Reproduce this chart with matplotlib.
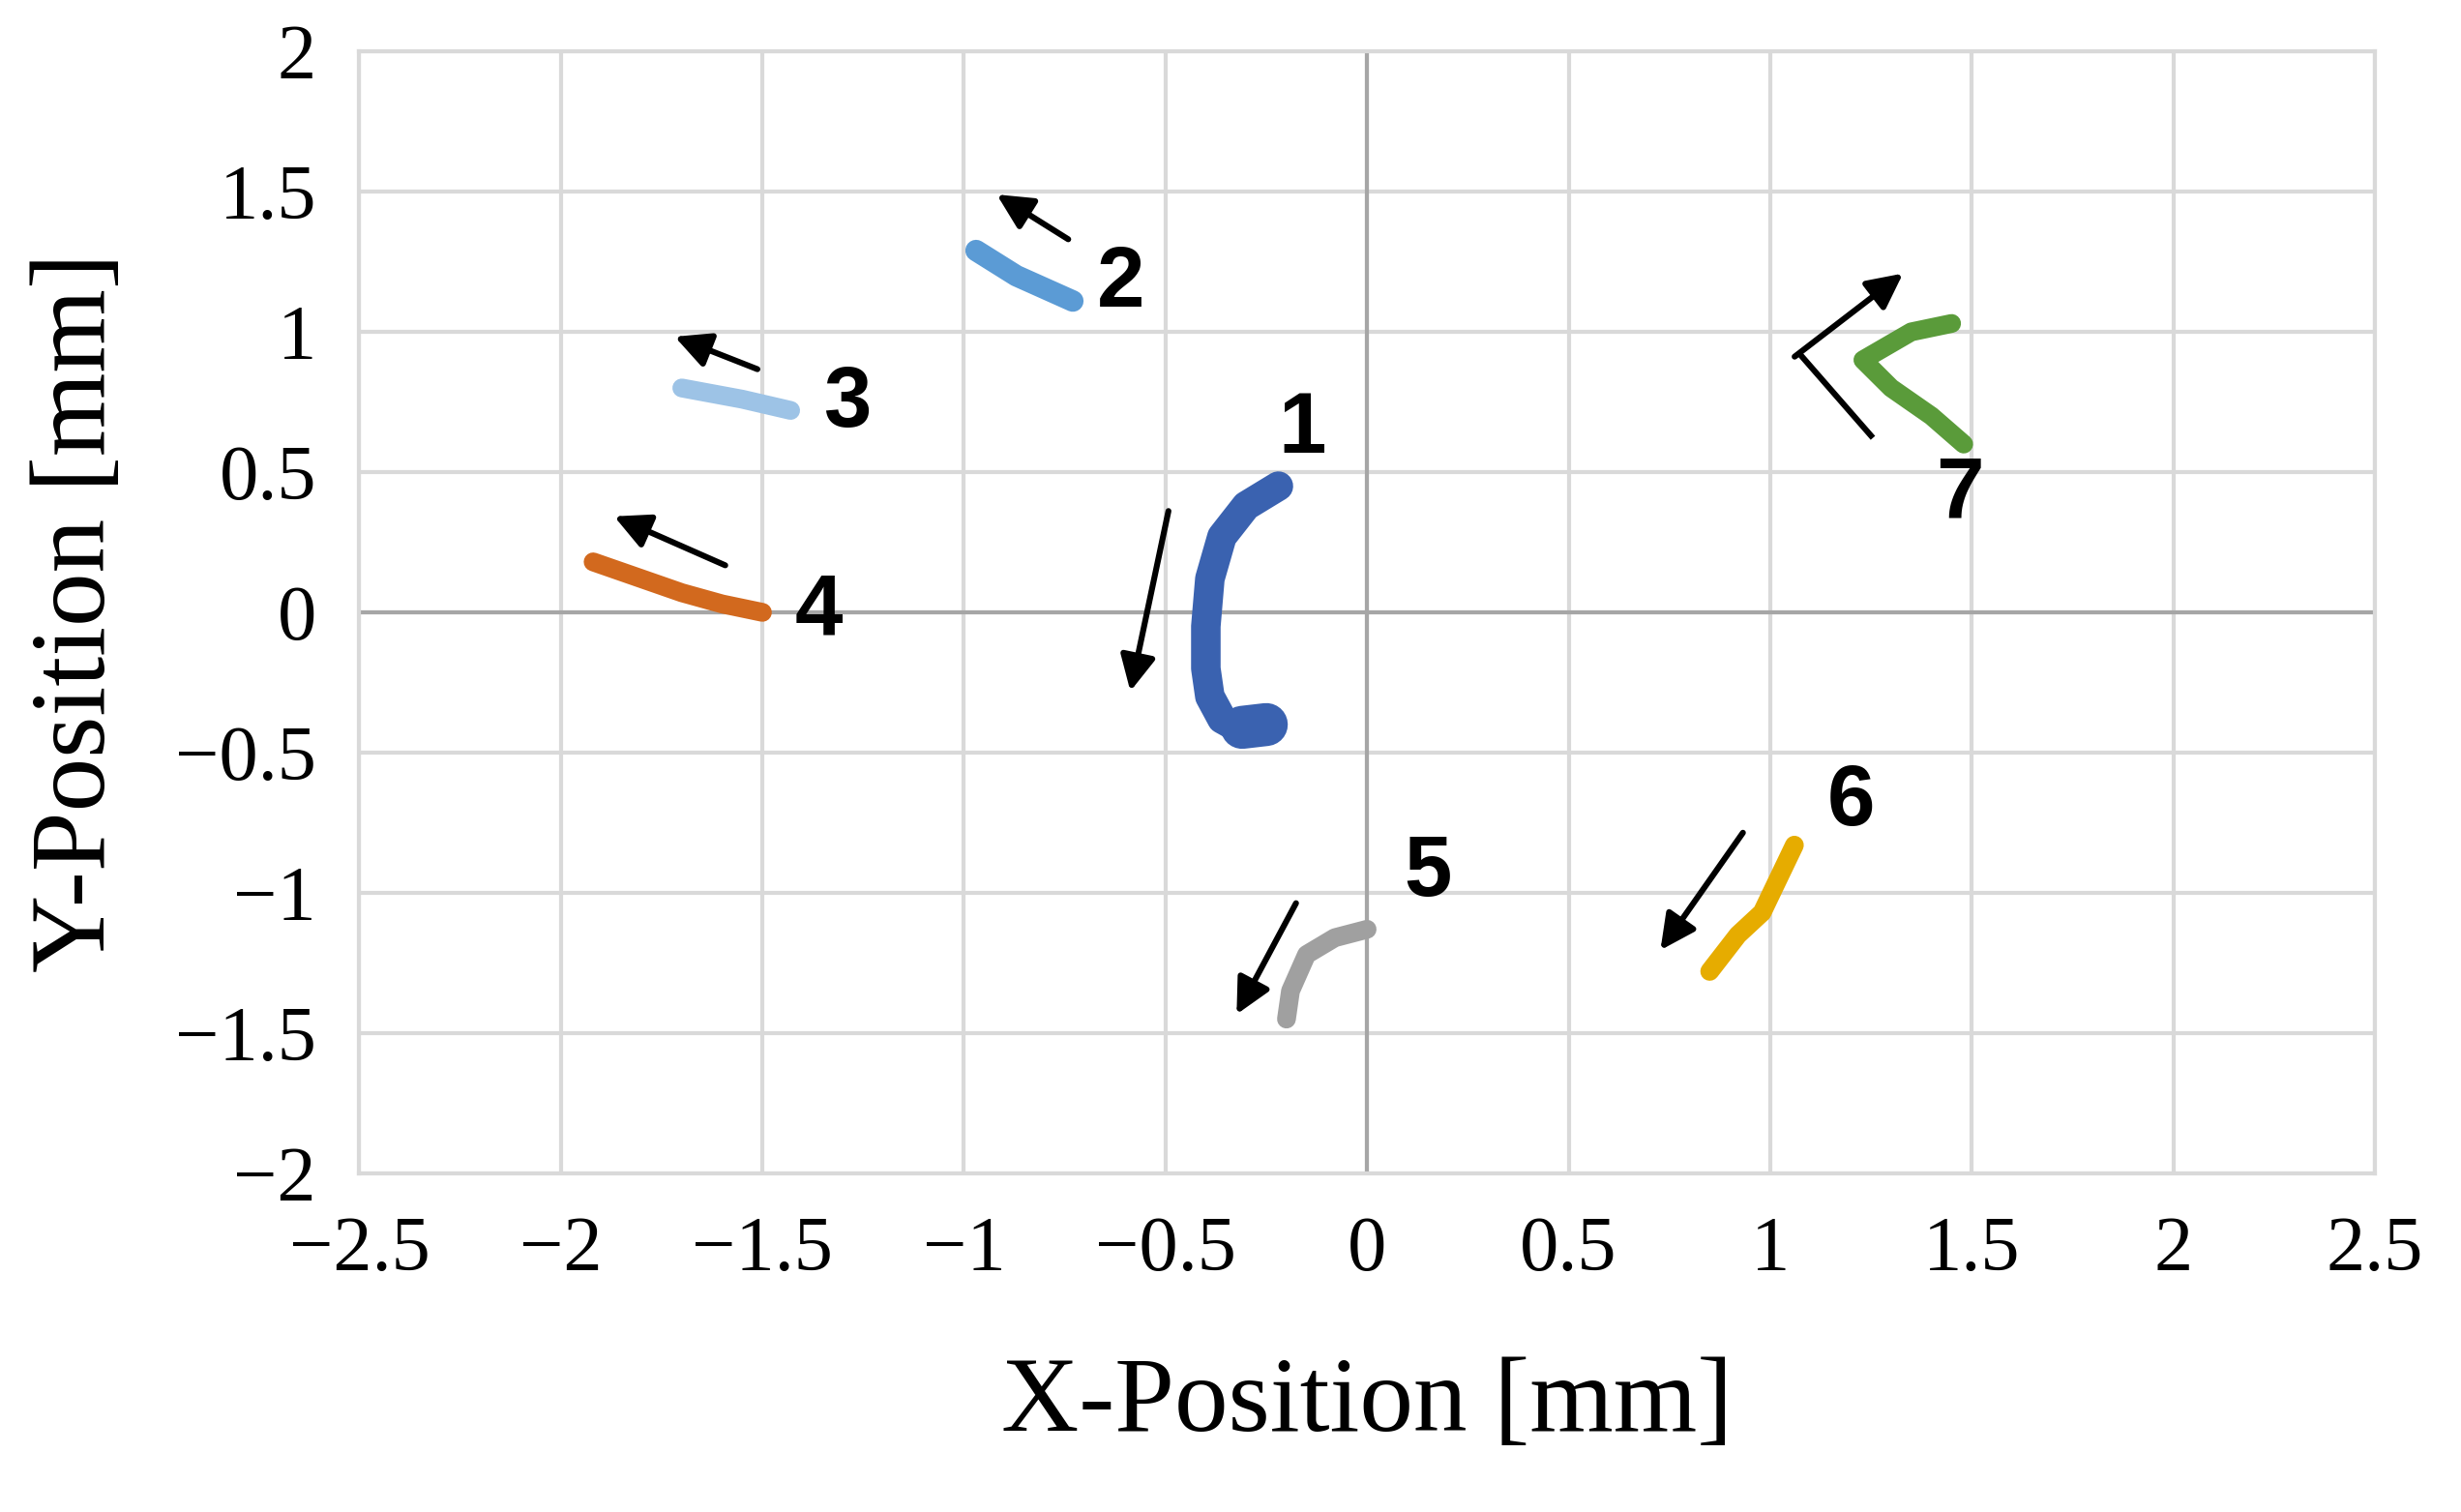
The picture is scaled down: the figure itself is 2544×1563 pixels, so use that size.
import matplotlib
matplotlib.use("Agg")
import matplotlib.pyplot as plt

tr1_x = [-0.22, -0.3, -0.36, -0.39, -0.4, -0.4, -0.39, -0.36, -0.31, -0.25]
tr1_y = [0.45, 0.38, 0.27, 0.12, -0.05, -0.2, -0.3, -0.38, -0.42, -0.4]
tr2_x = [-0.97, -0.87, -0.73]; tr2_y = [1.29, 1.2, 1.11]
tr3_x = [-1.7, -1.55, -1.43]; tr3_y = [0.8, 0.76, 0.72]
tr4_x = [-1.92, -1.8, -1.7, -1.6, -1.5]; tr4_y = [0.18, 0.12, 0.07, 0.03, 0.0]
tr5_x = [-0.2, -0.19, -0.15, -0.08, 0.0]; tr5_y = [-1.45, -1.35, -1.22, -1.16, -1.13]
tr6_x = [1.06, 1.02, 0.98, 0.92, 0.85]; tr6_y = [-0.83, -0.95, -1.07, -1.15, -1.28]
tr7_x = [1.45, 1.35, 1.23, 1.3, 1.4, 1.48]; tr7_y = [1.03, 1.0, 0.9, 0.8, 0.7, 0.6]
colors = ["#3a62b0", "#5b9bd5", "#9dc3e6", "#d2691e", "#a0a0a0", "#e6ac00", "#5a9b3a"]
labels = ["1", "2", "3", "4", "5", "6", "7"]
label_pos = [(-0.16, 0.65), (-0.61, 1.17), (-1.29, 0.74), (-1.36, 0.0), (0.15, -0.93), (1.2, -0.68), (1.47, 0.42)]
arrows = [((-0.49, 0.38), (-0.59, -0.3)), ((-0.73, 1.32), (-0.93, 1.5)), ((-1.5, 0.86), (-1.73, 0.99)),
          ((-1.58, 0.16), (-1.88, 0.35)), ((-0.17, -1.02), (-0.33, -1.45)), ((0.94, -0.77), (0.72, -1.22)),
          ((1.05, 0.9), (1.34, 1.22))]
xticks = [-2.5, -2, -1.5, -1, -0.5, 0, 0.5, 1, 1.5, 2, 2.5]
yticks = [-2, -1.5, -1, -0.5, 0, 0.5, 1, 1.5, 2]

fig = plt.figure(figsize=(12.72, 7.815), dpi=200)
ax = fig.add_axes([0.146, 0.224, 0.819, 0.742])
trs = [(tr1_x, tr1_y), (tr2_x, tr2_y), (tr3_x, tr3_y), (tr4_x, tr4_y), (tr5_x, tr5_y), (tr6_x, tr6_y), (tr7_x, tr7_y)]
widths = [11, 8, 7, 7, 7, 7, 7]
for (x, y), c, w in zip(trs, colors, widths):
    ax.plot(x, y, color=c, lw=w, solid_capstyle="round", solid_joinstyle="round", zorder=3)
ax.plot([-0.31, -0.25], [-0.41, -0.4], color=colors[0], lw=16, solid_capstyle="round", zorder=3)
for s, (lx, ly) in zip(labels, label_pos):
    ax.text(lx, ly, s, fontsize=32, fontweight="bold", family="Liberation Sans", ha="center", va="center")
for (a, b) in arrows:
    ax.annotate("", xy=b, xytext=a, arrowprops=dict(arrowstyle="-|>,head_length=1.1,head_width=0.55", color="black", lw=2.2))
ax.plot([1.08, 1.25], [0.91, 0.63], color="black", lw=2.2)
ax.set_xlim(-2.5, 2.5); ax.set_ylim(-2, 2)
ax.set_xticks(xticks); ax.set_yticks(yticks)
ax.set_xticklabels([f"{t:g}".replace("-", "\u2212") for t in xticks])
ax.set_yticklabels([f"{t:g}".replace("-", "\u2212") for t in yticks])
ax.tick_params(length=0, labelsize=29, pad=16)
for l in ax.get_xticklabels() + ax.get_yticklabels():
    l.set_family("Liberation Serif")
ax.grid(True, color="#d9d9d9", lw=1.5)
ax.axhline(0, color="#a6a6a6", lw=1.5, zorder=1)
ax.axvline(0, color="#a6a6a6", lw=1.5, zorder=1)
ax.set_axisbelow(True)
for s in ax.spines.values():
    s.set_color("#d9d9d9"); s.set_linewidth(1.5)
ax.set_xlabel("X-Position [mm]", fontsize=40, family="Liberation Serif", labelpad=26)
ax.set_ylabel("Y-Position [mm]", fontsize=40, family="Liberation Serif", labelpad=18)
fig.savefig("out.png", dpi=200)
